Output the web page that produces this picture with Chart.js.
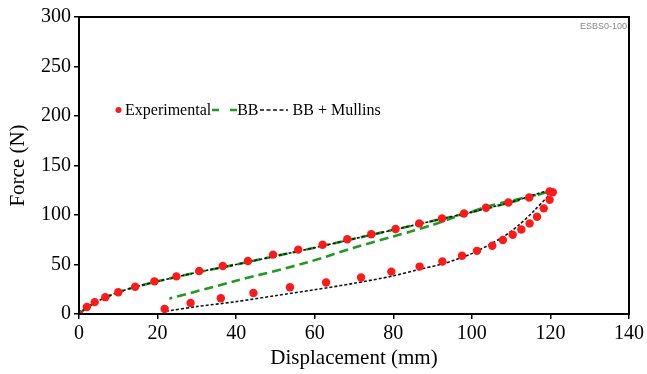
<!DOCTYPE html>
<html>
<head>
<meta charset="utf-8">
<script src="https://cdn.jsdelivr.net/npm/chart.js@4.4.1/dist/chart.umd.min.js"></script>
<style>
body { margin: 0; background: #fff; }
#wrap { position: relative; width: 647px; height: 374px; }
#legend { position: absolute; left: 113px; top: 101px; font-family: 'Liberation Serif'; font-size: 16px; color: #000; white-space: nowrap; display: flex; align-items: center; }
#legend svg { display: block; }
#tag { position: absolute; right: 20px; top: 21px; font-family: 'Liberation Sans'; font-size: 9px; color: #8a8a8a; }
</style>
</head>
<body>
<div id="wrap">
  <canvas id="forceChart" width="647" height="374"></canvas>
  <div id="legend">
    <svg width="12" height="12"><circle cx="5.5" cy="6" r="3" fill="#ff1a1a"/></svg>
    <span>Experimental</span>
    <svg width="26" height="12"><line x1="1" y1="6" x2="26" y2="6" stroke="#229922" stroke-width="2.6" stroke-dasharray="7,11"/></svg>
    <span>BB</span>
    <svg width="30" height="12"><line x1="1" y1="6" x2="29" y2="6" stroke="#111" stroke-width="1.5" stroke-dasharray="4,2.5"/></svg>
    <span>&nbsp;BB + Mullins</span>
  </div>
  <div id="tag">ESBS0-100</div>
</div>
<script>
// experimental points, loading then unloading
const dispLoad = [0, 2, 4, 6.7, 10, 14.3, 19.2, 24.8, 30.6, 36.6, 43, 49.4, 55.8, 62, 68.3, 74.4, 80.6, 86.6, 92.4, 98, 103.6, 109.3, 114.6, 119.8];
const forceLoad = [0, 7, 12, 17, 22, 27.5, 33, 38, 43.5, 48.5, 53.5, 60, 65, 70, 75.5, 80.5, 85.8, 91.5, 96.5, 101.5, 107.3, 112.7, 117.7, 123.8];
const dispUnload = [120.6, 119.8, 118.3, 116.6, 114.7, 112.6, 110.4, 107.9, 105.2, 101.3, 97.5, 92.5, 86.7, 79.5, 71.8, 62.9, 53.7, 44.4, 36.1, 28.4, 21.8];
const forceUnload = [123, 115.3, 106.7, 98.3, 91.5, 85.4, 80, 74.7, 68.9, 63.8, 58.8, 53, 47.9, 42.8, 36.8, 31.8, 27, 21.3, 16, 11.2, 5];

// BB + Mullins model
const mullinsDisp = [0, 2, 5, 10, 15, 20, 30, 40, 50, 60, 70, 80, 90, 100, 110, 120,
  116, 112, 108, 104, 100, 96, 92, 86, 80, 70, 60, 50, 40, 30, 22.5];
const mullinsForce = [0, 6.5, 13.5, 22, 28, 33, 42, 50, 58.5, 67, 76, 85, 94, 103, 113, 124,
  105, 90, 78, 69, 61, 55, 50, 44.5, 38.5, 31, 24.5, 18.5, 12.5, 7.5, 3];

// BB model
const bbDisp = [0, 2, 5, 10, 15, 20, 30, 40, 50, 60, 70, 80, 90, 100, 110, 120,
  115, 109, 104, 100, 95, 90, 85, 80, 70, 58, 40, 23];
const bbForce = [0, 6.5, 13.5, 22, 28, 33, 42, 50, 58.5, 67, 76, 85, 94, 103, 113, 124,
  119, 113.5, 108.5, 103.5, 97, 90, 84, 78.3, 67, 52, 33.5, 15.5];

const xMin = 0, xMax = 140, xStep = 20;
const yMin = 0, yMax = 300, yStep = 50;

function pts(xs, ys) {
    return xs.map((x, i) => ({ x: x, y: ys[i] }));
}

const frame = {
    id: 'frame',
    afterDraw(chart) {
        const a = chart.chartArea, g = chart.ctx;
        g.save();
        g.strokeStyle = '#000';
        g.lineWidth = 2;
        g.strokeRect(a.left, a.top, a.right - a.left, a.bottom - a.top);
        g.restore();
    }
};

const serif = 'Liberation Serif';

const ctx = document.getElementById("forceChart").getContext("2d");

const chart = new Chart(ctx, {
    type: 'scatter',
    data: {
        datasets: [
            {
                label: 'Experimental',
                data: pts(dispLoad.concat(dispUnload), forceLoad.concat(forceUnload)),
                backgroundColor: '#ff1a1a',
                borderWidth: 0,
                pointRadius: 4.2,
                showLine: false,
                order: 0
            },
            {
                label: 'BB + Mullins',
                data: pts(mullinsDisp, mullinsForce),
                showLine: true,
                borderColor: '#111',
                borderWidth: 1.6,
                borderDash: [3, 2],
                pointRadius: 0,
                tension: 0.3,
                fill: false,
                order: 1
            },
            {
                label: 'BB',
                data: pts(bbDisp, bbForce),
                showLine: true,
                borderColor: '#229922',
                borderWidth: 2.6,
                borderDash: [9, 5],
                pointRadius: 0,
                tension: 0.3,
                fill: false,
                order: 2
            }
        ]
    },
    options: {
        responsive: false,
        devicePixelRatio: 1,
        animation: false,
        layout: { padding: { top: 17, right: 12, left: 0, bottom: 0 } },
        plugins: { legend: { display: false }, tooltip: { enabled: false } },
        scales: {
            x: {
                type: 'linear',
                min: xMin, max: xMax,
                ticks: { stepSize: xStep, color: '#000', padding: 3, font: { family: serif, size: 20 } },
                grid: { drawOnChartArea: false, tickLength: 5, color: '#000', lineWidth: 1.5 },
                border: { display: false },
                title: { display: true, text: 'Displacement (mm)', color: '#000', font: { family: serif, size: 21 }, padding: { top: 4, bottom: 3 } },
                afterFit: s => { s.height = 60; }
            },
            y: {
                type: 'linear',
                min: yMin, max: yMax,
                ticks: { stepSize: yStep, color: '#000', padding: 3, font: { family: serif, size: 20 } },
                grid: { drawOnChartArea: false, tickLength: 5, color: '#000', lineWidth: 1.5 },
                border: { display: false },
                title: { display: true, text: 'Force (N)', color: '#000', font: { family: serif, size: 21 }, padding: { top: 6, bottom: 0 } },
                afterFit: s => { s.width = 79; }
            }
        }
    },
    plugins: [frame]
});
</script>
</body>
</html>
